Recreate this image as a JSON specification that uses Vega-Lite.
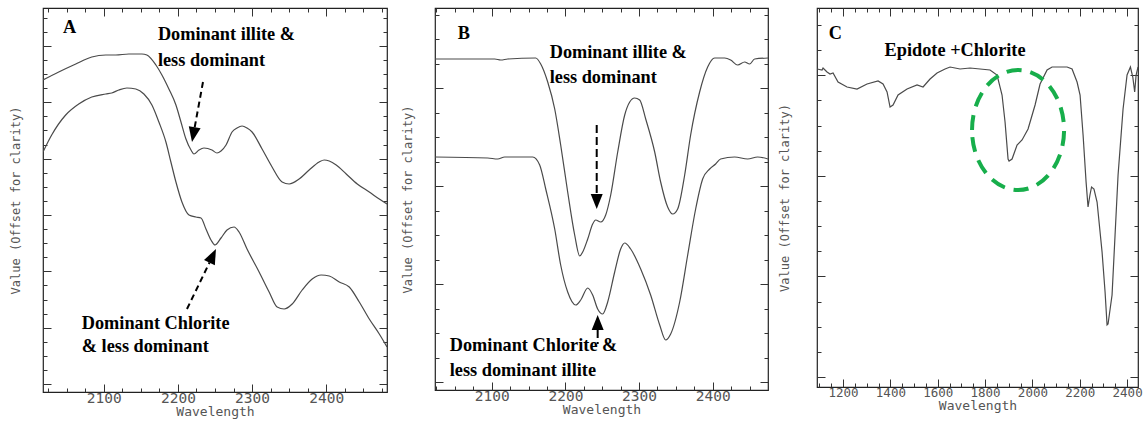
{
  "$schema": "https://vega.github.io/schema/vega-lite/v6.json",
  "padding": {"left": 8, "top": 6, "right": 0, "bottom": 0},
  "config": {
    "view": {"stroke": "#222", "strokeWidth": 1.2},
    "axis": {"domain": false, "grid": false, "labelFont": "DejaVu Sans Mono", "labelFontSize": 14.5, "labelColor": "#555", "titleFont": "DejaVu Sans Mono", "titleFontWeight": "normal", "titleColor": "#555", "tickColor": "#333", "tickWidth": 1},
    "text": {"font": "Liberation Serif", "fontWeight": "bold", "fontSize": 18.3, "color": "black", "align": "left", "baseline": "middle"}
  },
  "spacing": 11,
  "hconcat": [
    {
      "width": 344, "height": 384,
      "resolve": {"axis": {"x": "independent", "y": "independent"}},
      "layer": [
        {
          "data": {"values": [
            {"s":"u","w":2018,"v":312},{"s":"u","w":2039.2,"v":320},{"s":"u","w":2062.2,"v":328},{"s":"u","w":2083.8,"v":335},{"s":"u","w":2102.7,"v":337},{"s":"u","w":2116.2,"v":337},{"s":"u","w":2133.8,"v":338},{"s":"u","w":2151.4,"v":338},{"s":"u","w":2158.1,"v":337},{"s":"u","w":2170.3,"v":327},{"s":"u","w":2178.4,"v":317},{"s":"u","w":2187.8,"v":303},{"s":"u","w":2197.3,"v":287},{"s":"u","w":2204.1,"v":270},{"s":"u","w":2210.8,"v":253},{"s":"u","w":2217.6,"v":242},{"s":"u","w":2221.6,"v":238},{"s":"u","w":2228.4,"v":242},{"s":"u","w":2235.1,"v":244},{"s":"u","w":2245.9,"v":242},{"s":"u","w":2252.7,"v":239},{"s":"u","w":2258.1,"v":241},{"s":"u","w":2264.9,"v":247},{"s":"u","w":2273,"v":260},{"s":"u","w":2279.7,"v":264},{"s":"u","w":2286.5,"v":266},{"s":"u","w":2293.2,"v":264},{"s":"u","w":2300,"v":260},{"s":"u","w":2313.5,"v":243},{"s":"u","w":2327,"v":225},{"s":"u","w":2340.5,"v":210},{"s":"u","w":2350,"v":208},{"s":"u","w":2363.5,"v":213},{"s":"u","w":2377,"v":222},{"s":"u","w":2390.5,"v":230},{"s":"u","w":2397.3,"v":232},{"s":"u","w":2404.1,"v":231},{"s":"u","w":2413.5,"v":227},{"s":"u","w":2427,"v":218},{"s":"u","w":2441.9,"v":208},{"s":"u","w":2458.1,"v":200},{"s":"u","w":2471.6,"v":193},{"s":"u","w":2482,"v":188},
            {"s":"l","w":2018,"v":240},{"s":"l","w":2029.7,"v":257},{"s":"l","w":2048.6,"v":277},{"s":"l","w":2066.2,"v":288},{"s":"l","w":2083.8,"v":295},{"s":"l","w":2102.7,"v":298},{"s":"l","w":2110.8,"v":299},{"s":"l","w":2120.3,"v":302},{"s":"l","w":2131.1,"v":304},{"s":"l","w":2143.2,"v":303},{"s":"l","w":2154.1,"v":298},{"s":"l","w":2164.9,"v":287},{"s":"l","w":2174.3,"v":270},{"s":"l","w":2183.8,"v":250},{"s":"l","w":2190.5,"v":230},{"s":"l","w":2197.3,"v":210},{"s":"l","w":2205.4,"v":190},{"s":"l","w":2214.9,"v":177},{"s":"l","w":2224.3,"v":175},{"s":"l","w":2231.1,"v":174},{"s":"l","w":2237.8,"v":163},{"s":"l","w":2244.6,"v":152},{"s":"l","w":2250,"v":147},{"s":"l","w":2258.1,"v":154},{"s":"l","w":2266.2,"v":162},{"s":"l","w":2275.7,"v":165},{"s":"l","w":2282.4,"v":160},{"s":"l","w":2293.2,"v":143},{"s":"l","w":2309.5,"v":120},{"s":"l","w":2323,"v":100},{"s":"l","w":2333.8,"v":85},{"s":"l","w":2343.2,"v":83},{"s":"l","w":2354.1,"v":88},{"s":"l","w":2367.6,"v":102},{"s":"l","w":2381.1,"v":113},{"s":"l","w":2393.2,"v":117},{"s":"l","w":2404.1,"v":116},{"s":"l","w":2417.6,"v":110},{"s":"l","w":2431.1,"v":105},{"s":"l","w":2444.6,"v":90},{"s":"l","w":2458.1,"v":73},{"s":"l","w":2471.6,"v":58},{"s":"l","w":2482,"v":45}
          ]},
          "mark": {"type": "line", "color": "#4a4a4a", "strokeWidth": 1.2, "interpolate": "monotone", "clip": true},
          "encoding": {
            "x": {"field": "w", "type": "quantitative", "scale": {"domain": [2018, 2482], "nice": false, "zero": false},
              "axis": {"orient": "bottom", "title": "Wavelength", "titleFontSize": 13, "titlePadding": 1, "labelPadding": 7, "format": "d",
                "values": [2025,2050,2075,2100,2125,2150,2175,2200,2225,2250,2275,2300,2325,2350,2375,2400,2425,2450,2475],
                "labelExpr": "datum.value % 100 === 0 ? datum.label : ''",
                "tickSize": {"condition": {"test": "datum.value % 100 === 0", "value": -8}, "value": -4}}},
            "y": {"field": "v", "type": "quantitative", "scale": {"domain": [0, 384], "nice": false, "zero": false},
              "axis": {"orient": "left", "title": "Value (Offset for clarity)", "titleFontSize": 12, "titlePadding": 20, "labels": false,
                "values": [8,22.08,36.17,50.25,64.33,78.42,92.5,106.58,120.67,134.75,148.83,162.92,177,191.08,205.17,219.25,233.33,247.42,261.5,275.58,289.67,303.75,317.83,331.92,346,360.08,374.17],
                "tickSize": {"condition": {"test": "abs((datum.value-8)/56.333 - round((datum.value-8)/56.333)) < 0.02", "value": -8}, "value": -4}}},
            "detail": {"field": "s", "type": "nominal"}
          }
        },
        {
          "data": {"values": [
            {"t":"A","w":2045,"v":364},
            {"t":"Dominant illite &","w":2173,"v":357},
            {"t":"less dominant","w":2173,"v":331},
            {"t":"Dominant Chlorite","w":2070.3,"v":68},
            {"t":"& less dominant","w":2070.3,"v":45}
          ]},
          "mark": {"type": "text"},
          "encoding": {
            "x": {"field": "w", "type": "quantitative", "scale": {"domain": [2018, 2482], "nice": false, "zero": false},
              "axis": {"orient": "top", "title": null, "labels": false,
                "values": [2025,2050,2075,2100,2125,2150,2175,2200,2225,2250,2275,2300,2325,2350,2375,2400,2425,2450,2475],
                "tickSize": {"condition": {"test": "datum.value % 100 === 0", "value": -8}, "value": -4}}},
            "y": {"field": "v", "type": "quantitative", "scale": {"domain": [0, 384], "nice": false, "zero": false},
              "axis": {"orient": "right", "title": null, "labels": false,
                "values": [8,22.08,36.17,50.25,64.33,78.42,92.5,106.58,120.67,134.75,148.83,162.92,177,191.08,205.17,219.25,233.33,247.42,261.5,275.58,289.67,303.75,317.83,331.92,346,360.08,374.17],
                "tickSize": {"condition": {"test": "abs((datum.value-8)/56.333 - round((datum.value-8)/56.333)) < 0.02", "value": -8}, "value": -4}}},
            "text": {"field": "t", "type": "nominal"}
          }
        },
        {
          "data": {"values": [
            {"w":2233.8,"v":310,"w2":2222.6,"v2":264.7},
            {"w":2212.2,"v":83,"w2":2242.6,"v2":129.5}
          ]},
          "mark": {"type": "rule", "color": "black", "strokeWidth": 2, "strokeDash": [6, 4]},
          "encoding": {
            "x": {"field": "w", "type": "quantitative", "scale": {"domain": [2018, 2482], "nice": false, "zero": false}, "axis": null},
            "y": {"field": "v", "type": "quantitative", "scale": {"domain": [0, 384], "nice": false, "zero": false}, "axis": null},
            "x2": {"field": "w2"},
            "y2": {"field": "v2"}
          }
        },
        {
          "data": {"values": [
            {"w":2220.8,"v":257.4,"ang":10.4},
            {"w":2246.9,"v":136.2,"ang":205.8}
          ]},
          "mark": {"type": "point", "shape": "M -0.8,-1 L 0.8,-1 L 0,1 Z", "filled": true, "color": "black", "opacity": 1, "size": 225},
          "encoding": {
            "x": {"field": "w", "type": "quantitative", "scale": {"domain": [2018, 2482], "nice": false, "zero": false}, "axis": null},
            "y": {"field": "v", "type": "quantitative", "scale": {"domain": [0, 384], "nice": false, "zero": false}, "axis": null},
            "angle": {"field": "ang", "type": "quantitative", "scale": null}
          }
        }
      ]
    },
    {
      "spacing": 7,
      "hconcat": [
        {
          "width": 333, "height": 382,
          "resolve": {"axis": {"x": "independent", "y": "independent"}},
          "layer": [
            {
              "data": {"values": [
                {"s":"u","w":2023,"v":331},{"s":"u","w":2071.5,"v":331},{"s":"u","w":2104.1,"v":331},{"s":"u","w":2112.2,"v":330},{"s":"u","w":2121.7,"v":331},{"s":"u","w":2159.7,"v":332},{"s":"u","w":2166.5,"v":326},{"s":"u","w":2176,"v":308},{"s":"u","w":2185.5,"v":281},{"s":"u","w":2193.6,"v":245},{"s":"u","w":2203.1,"v":198},{"s":"u","w":2212.6,"v":155},{"s":"u","w":2219.4,"v":134},{"s":"u","w":2223.5,"v":138},{"s":"u","w":2230.3,"v":151},{"s":"u","w":2237,"v":166},{"s":"u","w":2241.1,"v":170},{"s":"u","w":2247.9,"v":168},{"s":"u","w":2254.7,"v":175},{"s":"u","w":2261.5,"v":195},{"s":"u","w":2271,"v":238},{"s":"u","w":2280.5,"v":275},{"s":"u","w":2287.3,"v":288},{"s":"u","w":2294,"v":292},{"s":"u","w":2300.8,"v":290},{"s":"u","w":2309,"v":271},{"s":"u","w":2321.2,"v":238},{"s":"u","w":2329.3,"v":208},{"s":"u","w":2338.8,"v":183},{"s":"u","w":2345.6,"v":176},{"s":"u","w":2352.4,"v":181},{"s":"u","w":2361.9,"v":215},{"s":"u","w":2370,"v":255},{"s":"u","w":2382.2,"v":298},{"s":"u","w":2393.1,"v":323},{"s":"u","w":2402.6,"v":332},{"s":"u","w":2416.2,"v":332},{"s":"u","w":2424.3,"v":330},{"s":"u","w":2433.8,"v":325},{"s":"u","w":2443.3,"v":328},{"s":"u","w":2450.1,"v":326},{"s":"u","w":2456.9,"v":331},{"s":"u","w":2475,"v":332},
                {"s":"l","w":2023,"v":233},{"s":"l","w":2094.6,"v":232},{"s":"l","w":2108.1,"v":231},{"s":"l","w":2117.6,"v":233},{"s":"l","w":2155.6,"v":233},{"s":"l","w":2165.1,"v":225},{"s":"l","w":2173.3,"v":201},{"s":"l","w":2185.5,"v":161},{"s":"l","w":2193.6,"v":125},{"s":"l","w":2203.1,"v":98},{"s":"l","w":2214,"v":85},{"s":"l","w":2220.8,"v":90},{"s":"l","w":2230.3,"v":102},{"s":"l","w":2237,"v":95},{"s":"l","w":2243.8,"v":81},{"s":"l","w":2250.6,"v":76},{"s":"l","w":2257.4,"v":88},{"s":"l","w":2266.9,"v":118},{"s":"l","w":2275,"v":141},{"s":"l","w":2280.5,"v":147},{"s":"l","w":2288.6,"v":141},{"s":"l","w":2302.2,"v":121},{"s":"l","w":2315.7,"v":95},{"s":"l","w":2328,"v":65},{"s":"l","w":2336.1,"v":50},{"s":"l","w":2342.9,"v":56},{"s":"l","w":2355.1,"v":88},{"s":"l","w":2366,"v":135},{"s":"l","w":2376.8,"v":181},{"s":"l","w":2386.3,"v":211},{"s":"l","w":2395.8,"v":221},{"s":"l","w":2403.9,"v":226},{"s":"l","w":2410.7,"v":231},{"s":"l","w":2429.7,"v":233},{"s":"l","w":2447.4,"v":231},{"s":"l","w":2460.9,"v":233},{"s":"l","w":2475,"v":231}
              ]},
              "mark": {"type": "line", "color": "#4a4a4a", "strokeWidth": 1.2, "interpolate": "monotone", "clip": true},
              "encoding": {
                "x": {"field": "w", "type": "quantitative", "scale": {"domain": [2023, 2475], "nice": false, "zero": false},
                  "axis": {"orient": "bottom", "title": "Wavelength", "titleFontSize": 13, "titlePadding": 1, "labelPadding": 7, "format": "d",
                    "values": [2025,2050,2075,2100,2125,2150,2175,2200,2225,2250,2275,2300,2325,2350,2375,2400,2425,2450,2475],
                    "labelExpr": "datum.value % 100 === 0 ? datum.label : ''",
                    "tickSize": {"condition": {"test": "datum.value % 100 === 0", "value": -8}, "value": -4}}},
                "y": {"field": "v", "type": "quantitative", "scale": {"domain": [0, 382], "nice": false, "zero": false},
                  "axis": {"orient": "left", "title": "Value (Offset for clarity)", "titleFontSize": 12, "titlePadding": 20, "labels": false,
                    "values": [8,32.5,57,81.5,106,130.5,155,179.5,204,228.5,253,277.5,302,326.5,351,375.5],
                    "tickSize": {"condition": {"test": "abs((datum.value-8)/98 - round((datum.value-8)/98)) < 0.02", "value": -8}, "value": -4}}},
                "detail": {"field": "s", "type": "nominal"}
              }
            },
            {
              "data": {"values": [
                {"t":"B","w":2054,"v":356},
                {"t":"Dominant illite &","w":2178.7,"v":337},
                {"t":"less dominant","w":2178.7,"v":312},
                {"t":"Dominant Chlorite &","w":2043,"v":44},
                {"t":"less dominant illite","w":2043,"v":19}
              ]},
              "mark": {"type": "text"},
              "encoding": {
                "x": {"field": "w", "type": "quantitative", "scale": {"domain": [2023, 2475], "nice": false, "zero": false},
                  "axis": {"orient": "top", "title": null, "labels": false,
                    "values": [2025,2050,2075,2100,2125,2150,2175,2200,2225,2250,2275,2300,2325,2350,2375,2400,2425,2450,2475],
                    "tickSize": {"condition": {"test": "datum.value % 100 === 0", "value": -8}, "value": -4}}},
                "y": {"field": "v", "type": "quantitative", "scale": {"domain": [0, 382], "nice": false, "zero": false},
                  "axis": {"orient": "right", "title": null, "labels": false,
                    "values": [8,32.5,57,81.5,106,130.5,155,179.5,204,228.5,253,277.5,302,326.5,351,375.5],
                    "tickSize": {"condition": {"test": "abs((datum.value-8)/98 - round((datum.value-8)/98)) < 0.02", "value": -8}, "value": -4}}},
                "text": {"field": "t", "type": "nominal"}
              }
            },
            {
              "data": {"values": [
                {"w":2242.5,"v":265,"w2":2242.5,"v2":196},
                {"w":2243.8,"v":60,"w2":2243.8,"v2":46}
              ]},
              "mark": {"type": "rule", "color": "black", "strokeWidth": 2, "strokeDash": [8, 4]},
              "encoding": {
                "x": {"field": "w", "type": "quantitative", "scale": {"domain": [2023, 2475], "nice": false, "zero": false}, "axis": null},
                "y": {"field": "v", "type": "quantitative", "scale": {"domain": [0, 382], "nice": false, "zero": false}, "axis": null},
                "x2": {"field": "w2"},
                "y2": {"field": "v2"}
              }
            },
            {
              "data": {"values": [
                {"w":2242.5,"v":188.5,"ang":0},
                {"w":2243.8,"v":67.5,"ang":180}
              ]},
              "mark": {"type": "point", "shape": "M -0.8,-1 L 0.8,-1 L 0,1 Z", "filled": true, "color": "black", "opacity": 1, "size": 225},
              "encoding": {
                "x": {"field": "w", "type": "quantitative", "scale": {"domain": [2023, 2475], "nice": false, "zero": false}, "axis": null},
                "y": {"field": "v", "type": "quantitative", "scale": {"domain": [0, 382], "nice": false, "zero": false}, "axis": null},
                "angle": {"field": "ang", "type": "quantitative", "scale": null}
              }
            }
          ]
        },
        {
          "width": 321, "height": 379,
          "resolve": {"axis": {"x": "independent", "y": "independent"}},
          "layer": [
            {
              "data": {"values": [
                {"w":1090.2,"v":318},{"w":1111.3,"v":317},{"w":1115.5,"v":319},{"w":1132.4,"v":315},{"w":1145.1,"v":313},{"w":1157.8,"v":314},{"w":1178.9,"v":305},{"w":1216.9,"v":300},{"w":1259.1,"v":298},{"w":1301.4,"v":303},{"w":1347.9,"v":306},{"w":1369,"v":303},{"w":1385.9,"v":295},{"w":1398.6,"v":280},{"w":1411.2,"v":282},{"w":1432.4,"v":292},{"w":1470.4,"v":298},{"w":1512.6,"v":302},{"w":1538,"v":300},{"w":1567.6,"v":308},{"w":1597.1,"v":314},{"w":1630.9,"v":318},{"w":1652.1,"v":320},{"w":1694.3,"v":318},{"w":1736.5,"v":319},{"w":1778.8,"v":318},{"w":1821,"v":317},{"w":1850.6,"v":312},{"w":1871.7,"v":292},{"w":1884.4,"v":265},{"w":1897.1,"v":228},{"w":1901.3,"v":226},{"w":1914,"v":228},{"w":1935.1,"v":242},{"w":1956.2,"v":247},{"w":1981.6,"v":258},{"w":2011.2,"v":282},{"w":2032.3,"v":303},{"w":2061.9,"v":317},{"w":2083,"v":320},{"w":2146.4,"v":320},{"w":2167.5,"v":318},{"w":2188.6,"v":305},{"w":2201.3,"v":292},{"w":2214,"v":252},{"w":2226.7,"v":205},{"w":2235,"v":180},{"w":2243,"v":192},{"w":2249.8,"v":200},{"w":2260,"v":198},{"w":2273.1,"v":185},{"w":2294.2,"v":135},{"w":2306.9,"v":95},{"w":2315.3,"v":62},{"w":2319.5,"v":63},{"w":2336.4,"v":92},{"w":2349.1,"v":152},{"w":2361.8,"v":212},{"w":2382.9,"v":278},{"w":2399.8,"v":312},{"w":2414,"v":320},{"w":2424,"v":310},{"w":2432,"v":295},{"w":2438,"v":312},{"w":2446.3,"v":320}
              ]},
              "mark": {"type": "line", "color": "#4a4a4a", "strokeWidth": 1.2, "clip": true},
              "encoding": {
                "x": {"field": "w", "type": "quantitative", "scale": {"domain": [1090, 2446], "nice": false, "zero": false},
                  "axis": {"orient": "bottom", "title": "Wavelength", "titleFontSize": 13, "titlePadding": 1, "labelPadding": 7, "labelFontSize": 12.5, "format": "d",
                    "values": [1100,1150,1200,1250,1300,1350,1400,1450,1500,1550,1600,1650,1700,1750,1800,1850,1900,1950,2000,2050,2100,2150,2200,2250,2300,2350,2400],
                    "labelExpr": "datum.value % 200 === 0 ? datum.label : ''",
                    "tickSize": {"condition": {"test": "datum.value % 200 === 0", "value": -8}, "value": -4}}},
                "y": {"field": "v", "type": "quantitative", "scale": {"domain": [0, 379], "nice": false, "zero": false},
                  "axis": {"orient": "left", "title": "Value (Offset for clarity)", "titleFontSize": 12, "titlePadding": 25, "labels": false,
                    "values": [10,35.15,60.3,85.45,110.6,135.75,160.9,186.05,211.2,236.35,261.5,286.65,311.8,336.95,362.1],
                    "tickSize": {"condition": {"test": "abs((datum.value-10)/100.6 - round((datum.value-10)/100.6)) < 0.02", "value": -8}, "value": -4}}}
              }
            },
            {
              "data": {"values": [
                {"t":"C","w":1140,"v":353,"a":"left"},
                {"t":"Epidote +Chlorite","w":1673.2,"v":336,"a":"center"}
              ]},
              "mark": {"type": "text", "align": {"expr": "datum.a"}},
              "encoding": {
                "x": {"field": "w", "type": "quantitative", "scale": {"domain": [1090, 2446], "nice": false, "zero": false},
                  "axis": {"orient": "top", "title": null, "labels": false,
                    "values": [1100,1150,1200,1250,1300,1350,1400,1450,1500,1550,1600,1650,1700,1750,1800,1850,1900,1950,2000,2050,2100,2150,2200,2250,2300,2350,2400],
                    "tickSize": {"condition": {"test": "datum.value % 200 === 0", "value": -8}, "value": -4}}},
                "y": {"field": "v", "type": "quantitative", "scale": {"domain": [0, 379], "nice": false, "zero": false},
                  "axis": {"orient": "right", "title": null, "labels": false,
                    "values": [10,35.15,60.3,85.45,110.6,135.75,160.9,186.05,211.2,236.35,261.5,286.65,311.8,336.95,362.1],
                    "tickSize": {"condition": {"test": "abs((datum.value-10)/100.6 - round((datum.value-10)/100.6)) < 0.02", "value": -8}, "value": -4}}},
                "text": {"field": "t", "type": "nominal"}
              }
            },
            {
              "data": {"values": [{"w":1939.3,"v":257}]},
              "mark": {"type": "point", "shape": "M -0.767,0 A 0.767,1 0 1,1 0.767,0 A 0.767,1 0 1,1 -0.767,0 Z", "filled": false, "color": "#17AE4B", "opacity": 1, "size": 14400, "strokeWidth": 4, "strokeDash": [15, 9]},
              "encoding": {
                "x": {"field": "w", "type": "quantitative", "scale": {"domain": [1090, 2446], "nice": false, "zero": false}, "axis": null},
                "y": {"field": "v", "type": "quantitative", "scale": {"domain": [0, 379], "nice": false, "zero": false}, "axis": null}
              }
            }
          ]
        }
      ]
    }
  ]
}
